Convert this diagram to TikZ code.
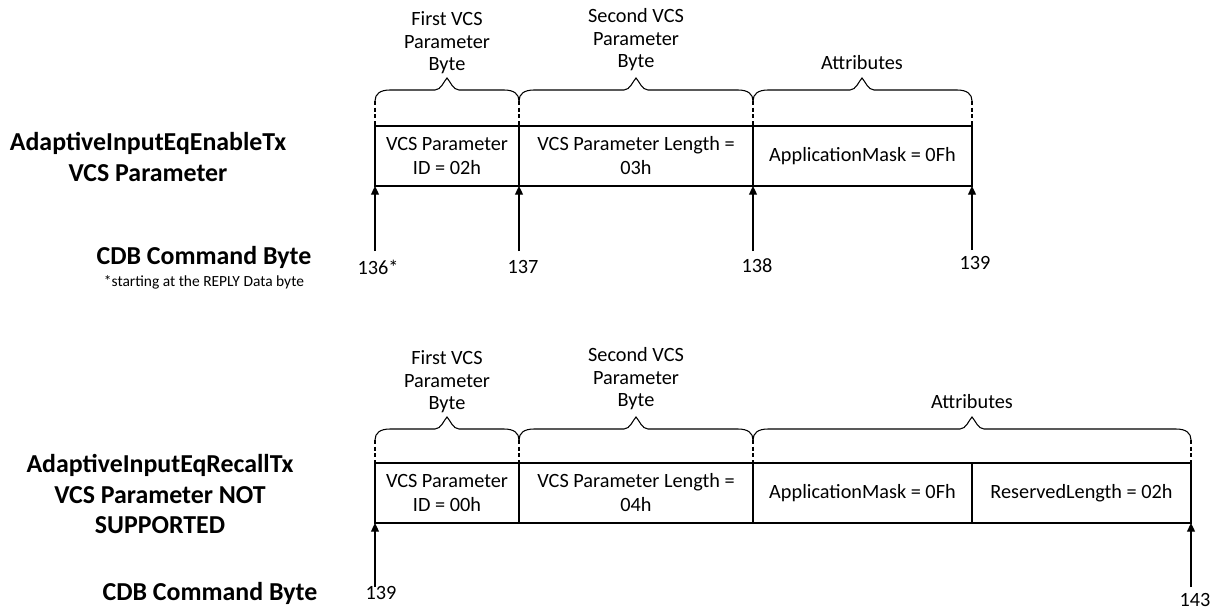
\documentclass[tikz,border=0pt]{standalone}
\usepackage{fontspec}
\setmainfont{Carlito}
\usetikzlibrary{arrows.meta}
\newcommand\mybrace[4]{% x1, x2, xm, yb
  \draw[brc] (#1,#4) .. controls (#1,{#4-7}) and ({#1+5},{#4-11}) .. ({#1+15},{#4-11})
    -- ({#3-12},{#4-11}) .. controls ({#3-6},{#4-11}) and ({#3-3},{#4-20}) .. (#3,{#4-23})
    .. controls ({#3+3},{#4-20}) and ({#3+6},{#4-11}) .. ({#3+12},{#4-11})
    -- ({#2-15},{#4-11}) .. controls ({#2-5},{#4-11}) and (#2,{#4-7}) .. (#2,#4);}
\tikzset{
  brc/.style={line width=0.8pt, black},
  dsh/.style={line width=0.8pt, black, dash pattern=on 3pt off 2pt},
  cell/.style={draw, line width=0.9pt, rectangle, inner sep=0pt, minimum height=45pt,
    align=center, font=\fontsize{15.2}{18}\selectfont},
  blab/.style={align=center, font=\fontsize{15.2}{16.9}\selectfont},
  num/.style={font=\fontsize{15.2}{18}\selectfont},
  side/.style={align=center, font=\fontsize{19.4}{23}\selectfont\bfseries},
  note/.style={font=\fontsize{11.6}{14}\selectfont},
  arr/.style={line width=0.9pt, -{Triangle[length=6.5pt,width=6pt]}}
}
\begin{document}
\begin{tikzpicture}[x=0.75pt,y=-0.75pt]
\useasboundingbox (0,0) rectangle (1220,611);
% ---------- Diagram 1 ----------
\node[side] (t1) at (148,157) {AdaptiveInputEqEnableTx\\VCS Parameter};
\node[side] (cdb1) at (204,257) {CDB Command Byte};
\node[note] (nt1) at (204,282) {*starting at the REPLY Data byte};

\node[cell, minimum width=108pt] (c11) at (447,156) {VCS Parameter\\ID = 02h};
\node[cell, minimum width=175.5pt] (c12) at (636,156) {VCS Parameter Length =\\03h};
\node[cell, minimum width=164.25pt] (c13) at (862.5,156) {ApplicationMask = 0Fh};

\node[blab] (b11) at (447,43) {First VCS\\Parameter\\Byte};
\node[blab] (b12) at (636,40) {Second VCS\\Parameter\\Byte};
\node[blab] (b13) at (862,63) {Attributes};
\mybrace{375}{519}{447}{101}
\mybrace{519}{753}{636}{101}
\mybrace{753}{972}{862}{101}
\foreach \xx in {375,519,753,972} \draw[dsh] (\xx,101) -- (\xx,126);

\node[num] (n136) at (378,267) {136*};
\node[num] (n137) at (523,267) {137};
\node[num] (n138) at (757,266) {138};
\node[num] (n139) at (975,263) {139};
\coordinate (p1) at (375,186); \coordinate (q1) at (375,251);
\coordinate (p2) at (519,186); \coordinate (q2) at (519,251);
\coordinate (p3) at (753,186); \coordinate (q3) at (753,251);
\coordinate (p4) at (972,186); \coordinate (q4) at (972,250);
\draw[arr] (q1) -- (p1);
\draw[arr] (q2) -- (p2);
\draw[arr] (q3) -- (p3);
\draw[arr] (q4) -- (p4);

% ---------- Diagram 2 ----------
\node[side] (t2) at (160,494) {AdaptiveInputEqRecallTx\\VCS Parameter NOT\\SUPPORTED};
\node[side] (cdb2) at (210,593) {CDB Command Byte};

\node[cell, minimum width=108pt] (c21) at (447,493) {VCS Parameter\\ID = 00h};
\node[cell, minimum width=175.5pt] (c22) at (636,493) {VCS Parameter Length =\\04h};
\node[cell, minimum width=164.25pt] (c23) at (862.5,493) {ApplicationMask = 0Fh};
\node[cell, minimum width=164.25pt] (c24) at (1081.5,493) {ReservedLength = 02h};

\node[blab] (b21) at (447,382) {First VCS\\Parameter\\Byte};
\node[blab] (b22) at (636,379) {Second VCS\\Parameter\\Byte};
\node[blab] (b23) at (972,402) {Attributes};
\mybrace{375}{519}{447}{440}
\mybrace{519}{753}{636}{440}
\mybrace{753}{1191}{972}{440}
\foreach \xx in {375,519,753,1191} \draw[dsh] (\xx,440) -- (\xx,463);

\node[num] (m139) at (381,593) {139};
\node[num] (m143) at (1195,600) {143};
\coordinate (r1) at (375,523); \coordinate (s1) at (375,587);
\coordinate (r2) at (1191,523); \coordinate (s2) at (1191,587);
\draw[arr] (s1) -- (r1);
\draw[arr] (s2) -- (r2);
\end{tikzpicture}
\end{document}
